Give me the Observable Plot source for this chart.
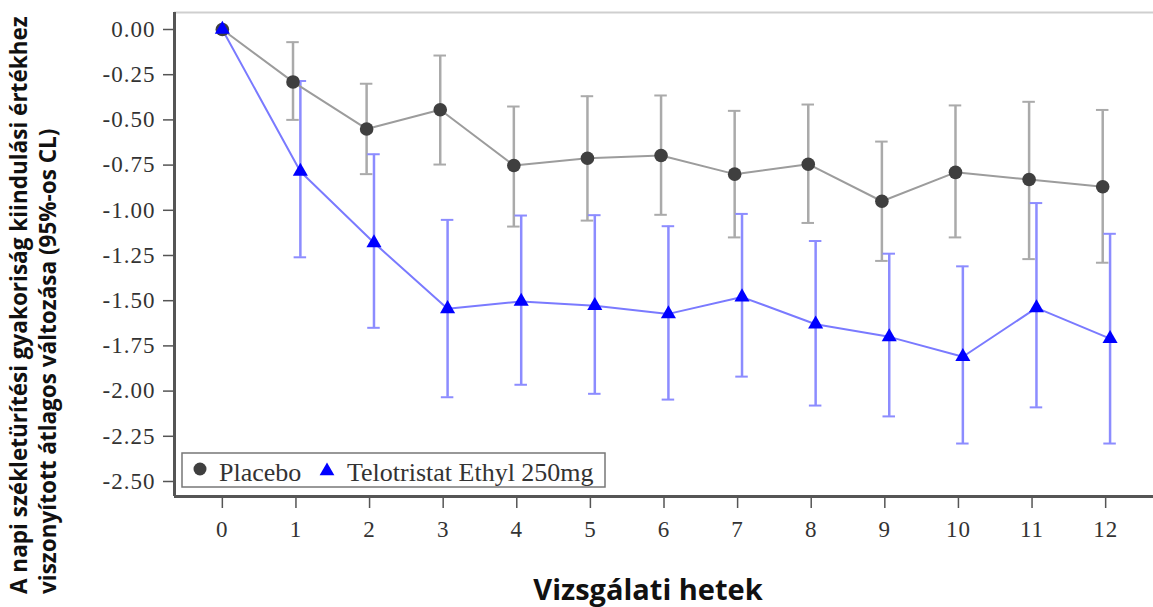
<!DOCTYPE html>
<html>
<head>
<meta charset="utf-8">
<script src="https://cdn.jsdelivr.net/npm/d3@7"></script>
<script src="https://cdn.jsdelivr.net/npm/@observablehq/plot@0.6"></script>
<style>
  html, body { margin: 0; padding: 0; background: #fff; }
  #chart { width: 1153px; height: 607px; }
</style>
</head>
<body>
<div id="chart"></div>
<script>
// ---- data ----
const weeks = [0, 1, 2, 3, 4, 5, 6, 7, 8, 9, 10, 11, 12];
const placeboMean  = [0, -0.29, -0.55, -0.444, -0.752, -0.712, -0.697, -0.80, -0.745, -0.95, -0.79, -0.83, -0.87];
const placeboLower = [null, -0.50, -0.80, -0.747, -1.09, -1.057, -1.025, -1.15, -1.07, -1.28, -1.15, -1.27, -1.29];
const placeboUpper = [null, -0.07, -0.30, -0.144, -0.426, -0.369, -0.365, -0.45, -0.415, -0.62, -0.42, -0.40, -0.445];
const teloMean  = [0, -0.785, -1.18, -1.545, -1.504, -1.528, -1.573, -1.48, -1.63, -1.70, -1.81, -1.54, -1.71];
const teloLower = [null, -1.26, -1.65, -2.034, -1.965, -2.015, -2.047, -1.92, -2.08, -2.14, -2.29, -2.09, -2.29];
const teloUpper = [null, -0.285, -0.69, -1.053, -1.029, -1.027, -1.088, -1.02, -1.17, -1.24, -1.31, -0.96, -1.13];
const yTicks = [0, -0.25, -0.5, -0.75, -1, -1.25, -1.5, -1.75, -2, -2.25, -2.5];
const seriesNames = ["Placebo", "Telotristat Ethyl 250mg"];
const xTitle = "Vizsgálati hetek";
const yTitle = ["A napi székletürítési gyakoriság kiindulási értékhez", "viszonyított átlagos változása (95%-os CL)"];

// ---- build tables ----
const placebo = weeks.map((w, i) => ({week: w, mean: placeboMean[i], lo: placeboLower[i], hi: placeboUpper[i]}));
const telo = weeks.map((w, i) => ({week: w, mean: teloMean[i], lo: teloLower[i], hi: teloUpper[i]}));

const xDomain = [-0.65, 12.65];
const yDomain = [-2.583, 0.094];
const offP = -0.04, offT = 0.06, cap = 0.085;
const xp = d => d.week === 0 ? 0 : d.week + offP;
const xt = d => d.week === 0 ? 0 : d.week + offT;
const hasCI = d => d.lo != null;

const gray = "#9c9c9c", grayBar = "#aaaaaa", grayDot = "#3f3f3f";
const blueLine = "#7a7aff", blueBar = "#8c8cff", blueDot = "#0000ff";
const serif = "'Liberation Serif', 'Times New Roman', serif";

const chart = Plot.plot({
  width: 1153,
  height: 607,
  marginLeft: 174,
  marginRight: 0,
  marginTop: 12,
  marginBottom: 111,
  style: {fontFamily: serif, background: "#fff", overflow: "visible"},
  x: {domain: xDomain},
  y: {domain: yDomain},
  marks: [
    Plot.ruleY([yDomain[1]], {stroke: "#cfcfcf", strokeWidth: 2}),
    // placebo CI
    Plot.ruleX(placebo.filter(hasCI), {x: xp, y1: "lo", y2: "hi", stroke: grayBar, strokeWidth: 2.5}),
    Plot.ruleY(placebo.filter(hasCI), {y: "lo", x1: d => xp(d) - cap, x2: d => xp(d) + cap, stroke: grayBar, strokeWidth: 2}),
    Plot.ruleY(placebo.filter(hasCI), {y: "hi", x1: d => xp(d) - cap, x2: d => xp(d) + cap, stroke: grayBar, strokeWidth: 2}),
    // telo CI
    Plot.ruleX(telo.filter(hasCI), {x: xt, y1: "lo", y2: "hi", stroke: blueBar, strokeWidth: 2.5}),
    Plot.ruleY(telo.filter(hasCI), {y: "lo", x1: d => xt(d) - cap, x2: d => xt(d) + cap, stroke: blueBar, strokeWidth: 2}),
    Plot.ruleY(telo.filter(hasCI), {y: "hi", x1: d => xt(d) - cap, x2: d => xt(d) + cap, stroke: blueBar, strokeWidth: 2}),
    // lines
    Plot.line(placebo, {x: xp, y: "mean", stroke: gray, strokeWidth: 2}),
    Plot.line(telo, {x: xt, y: "mean", stroke: blueLine, strokeWidth: 2}),
    // markers
    Plot.dot(placebo, {x: xp, y: "mean", r: 6.8, fill: grayDot, symbol: "circle"}),
    Plot.dot(telo, {x: xt, y: "mean", r: 5.6, fill: blueDot, symbol: "triangle"}),
    // axes
    Plot.axisY({ticks: yTicks, tickFormat: d => d.toFixed(2), tickSize: 11, tickPadding: 8,
      fontSize: 23, fill: "#333", stroke: "#555", strokeWidth: 1.5, label: null}),
    Plot.axisX({ticks: weeks, tickFormat: d => String(d), tickSize: 12, tickPadding: 12,
      fontSize: 23, fill: "#333", stroke: "#555", strokeWidth: 1.5, label: null}),
    Plot.ruleX([xDomain[0]], {stroke: "#555", strokeWidth: 3}),
    Plot.ruleY([yDomain[0]], {stroke: "#555", strokeWidth: 3})
  ]
});

document.getElementById("chart").appendChild(chart);

// ---- titles and legend added into the SVG ----
const svg = d3.select(chart);
svg.selectAll("g[aria-label='y-axis tick label'] text, g[aria-label='x-axis tick label'] text")
  .style("letter-spacing", "1px");

const sans = "'Open Sans', 'Noto Sans', sans-serif";
svg.append("text")
  .attr("x", 648).attr("y", 600)
  .attr("text-anchor", "middle")
  .style("font-family", sans).style("font-weight", 700).style("font-size", "29px")
  .attr("fill", "#111")
  .text(xTitle);

[27, 56].forEach((x, i) => {
  svg.append("text")
    .attr("transform", `translate(${x},594) rotate(-90)`)
    .attr("text-anchor", "start")
    .style("font-family", sans).style("font-weight", 700).style("font-size", "22.5px")
    .attr("fill", "#111")
    .text(yTitle[i]);
});

const lg = svg.append("g");
lg.append("rect").attr("x", 182).attr("y", 453).attr("width", 423).attr("height", 34)
  .attr("fill", "#fff").attr("stroke", "#777").attr("stroke-width", 1.5);
lg.append("circle").attr("cx", 200).attr("cy", 469).attr("r", 6.5).attr("fill", grayDot);
lg.append("path").attr("d", d3.symbol(d3.symbolTriangle, Math.PI * 30)())
  .attr("transform", "translate(327,471)").attr("fill", blueDot);
lg.append("text").attr("x", 219).attr("y", 481).attr("text-anchor", "start")
  .style("font-family", serif).style("font-size", "26px").attr("fill", "#333")
  .text(seriesNames[0]);
lg.append("text").attr("x", 347).attr("y", 481).attr("text-anchor", "start")
  .style("font-family", serif).style("font-size", "26px").attr("fill", "#333")
  .text(seriesNames[1]);
</script>
</body>
</html>
